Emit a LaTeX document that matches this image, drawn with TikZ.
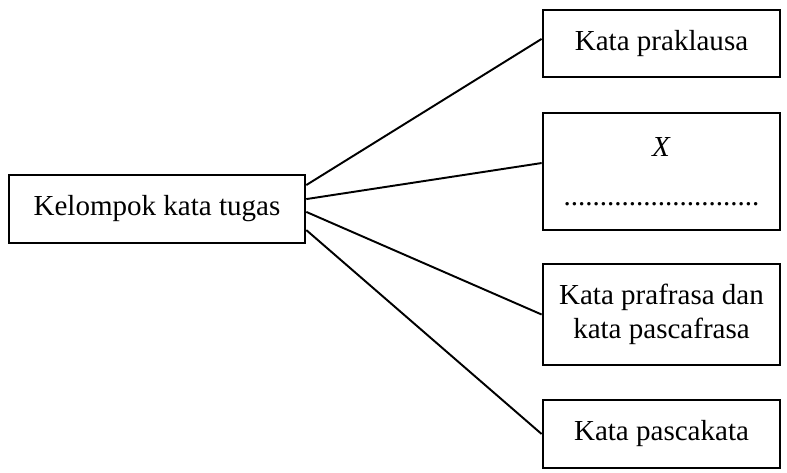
\documentclass[tikz,border=0pt]{standalone}
\usepackage{fontspec}
\setmainfont{Liberation Serif}
\usepackage{tikz}
\tikzstyle{kotak}=[rectangle, draw=black, line width=1.1pt, align=center, inner sep=0pt, font=\fontsize{12}{14}\selectfont]

\begin{document}
\begin{tikzpicture}[x=0.4133pt, y=-0.4133pt, thick]
			\useasboundingbox (0,0) rectangle (787,472);
			\node[kotak, minimum width=122.3pt, minimum height=28.1pt] (tugas) at (157,209) {Kelompok kata tugas};
			\node[kotak, minimum width=98pt, minimum height=27.7pt] (praklausa) at (661.5,43.5) {Kata praklausa};
			\node[kotak, minimum width=98pt, minimum height=48.4pt] (x) at (661.5,171.5) {\textit{X}\\[6.5pt]...........................};
			\node[kotak, minimum width=98pt, minimum height=41.7pt] (prafrasa) at (661.5,314.5) {Kata prafrasa dan\\kata pascafrasa};
			\node[kotak, minimum width=98pt, minimum height=28.1pt] (pascakata) at (661.5,434) {Kata pascakata};
			\path[draw=black] ([yshift=9.9pt]tugas.east)--([yshift=1.9pt]praklausa.west)
				([yshift=4.1pt]tugas.east)--([yshift=3.5pt]x.west)
				([yshift=-1.2pt]tugas.east)--(prafrasa.west)
				([yshift=-8.7pt]tugas.east)--(pascakata.west);
		\end{tikzpicture}
\end{document}
